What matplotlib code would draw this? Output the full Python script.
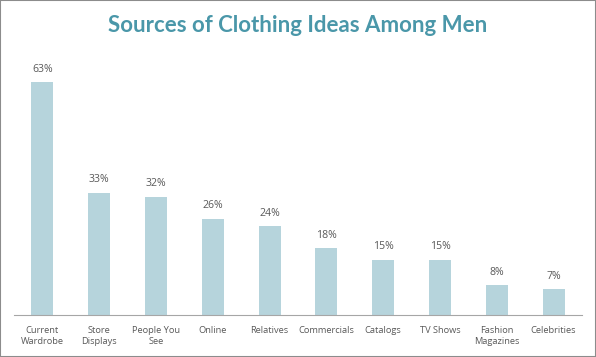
import matplotlib
matplotlib.use("Agg")
import matplotlib.pyplot as plt
from matplotlib.patches import Rectangle

categories = ["Current\nWardrobe", "Store\nDisplays", "People You\nSee", "Online", "Relatives",
              "Commercials", "Catalogs", "TV Shows", "Fashion\nMagazines", "Celebrities"]
values = [63, 33, 32, 26, 24, 18, 15, 15, 8, 7]

W, H = 596, 357
fig = plt.figure(figsize=(W / 100, H / 100), dpi=100)
ax = fig.add_axes([14 / W, (H - 315) / H, (582 - 14) / W, (315 - 60) / H])

ax.bar(range(len(values)), values, width=0.39, color="#B6D4DC")
ax.set_xlim(-0.5, len(values) - 0.5)
ax.set_ylim(0, (315 - 60) / 3.7)

for i, v in enumerate(values):
    ax.text(i, v + 2.0, f"{v}%", ha="center", va="bottom", fontsize=7.6, color="#595959",
            family="Open Sans")

ax.set_xticks(range(len(values)))
ax.set_xticklabels(categories, fontsize=6.7, color="#595959", family="Open Sans", linespacing=1.25)
ax.tick_params(axis="x", length=0, pad=8)
ax.set_yticks([])
for s in ["top", "left", "right"]:
    ax.spines[s].set_visible(False)
ax.spines["bottom"].set_color("#A6A6A6")
ax.spines["bottom"].set_linewidth(0.8)

fig.text(0.5, (H - 25) / H, "Sources of Clothing Ideas Among Men", ha="center", va="center",
         fontsize=16, fontweight="bold", color="#4A97A9", family="Lato")

fig.patches.append(Rectangle((0, 0), 1, 1, transform=fig.transFigure, fill=False,
                             edgecolor="#8C8C8C", linewidth=1.5))

fig.savefig("out.png", dpi=100)
